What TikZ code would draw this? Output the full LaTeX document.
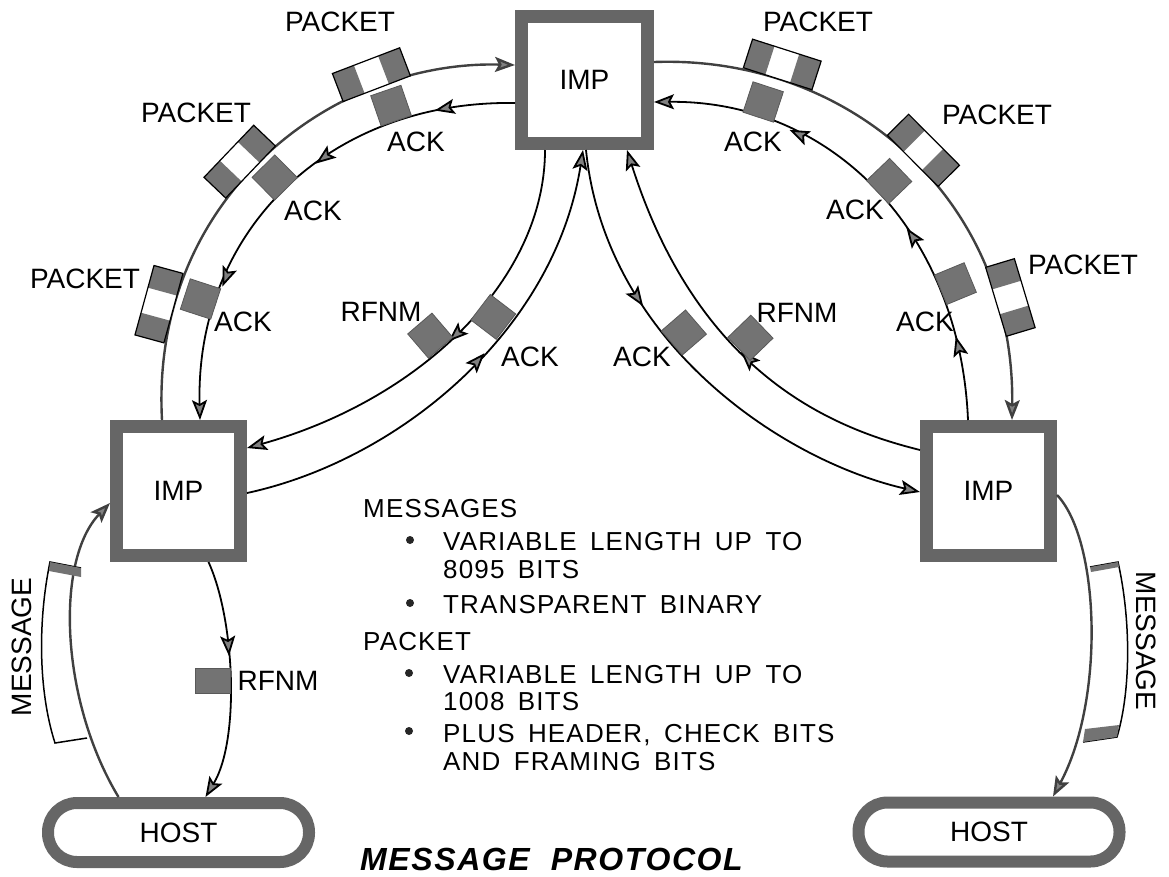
\documentclass[tikz,border=0pt]{standalone}
\usepackage{fontspec}
\setmainfont{Liberation Sans}
\newfontfamily\lettering{Liberation Sans}
\newfontfamily\notefont[LetterSpace=4.5,WordSpace=1.6]{Liberation Sans}
\newfontfamily\titlefont[LetterSpace=5,WordSpace=2]{Liberation Sans}
\usetikzlibrary{arrows.meta,decorations.markings}

% a packet: dark header and trailer round a white body, drawn on the left of the path
\newcommand\pktglyph{%
  \fill[white] (-36pt,0pt) rectangle (36pt,30pt);
  \fill[black!55] (-36pt,0pt) rectangle (-13pt,30pt);
  \fill[black!55] (13pt,0pt) rectangle (36pt,30pt);
  \draw[arrows=-, black, line width=1.2pt] (-36pt,0pt) rectangle (36pt,30pt);}

\tikzset{
  gtip/.tip={Stealth[length=20pt,width=15pt,inset=4pt,fill=black!50]},
  lbl/.style={font=\lettering\fontsize{28pt}{30pt}\selectfont, inner sep=0pt},
  txt/.style={font=\notefont\fontsize{26pt}{30pt}\selectfont, inner sep=0pt, anchor=base west},
  impnode/.style={draw=black!60, line width=13pt, fill=white, inner sep=0pt,
    minimum width=124pt, minimum height=129pt, font=\fontsize{28pt}{30pt}\selectfont},
  hostnode/.style={draw=black!60, line width=12pt, fill=white, rounded corners=29pt,
    minimum width=261pt, minimum height=59pt, inner sep=0pt, font=\fontsize{28pt}{30pt}\selectfont},
  ackbox/.style={draw=black!65, line width=0.8pt, fill=black!55, minimum size=32pt,
    inner sep=0pt, sloped, allow upside down},
  flatbox/.style={draw=black!65, line width=0.8pt, fill=black!55, minimum width=35pt,
    minimum height=25pt, inner sep=0pt},
  trunk/.style={draw=black!75, line width=2.4pt, -gtip},
  link/.style={draw=black, line width=1.8pt, -gtip},
  tipat/.style={postaction={decorate,decoration={markings,mark=at position #1 with {\arrow{gtip}}}}},
  packetat/.style={postaction={decorate,decoration={markings,mark=at position #1 with {\pktglyph}}}},
  dot/.style={circle, fill=black!85, minimum size=8pt, inner sep=0pt},
  msgbox/.style={draw=black, line width=1.5pt},
}

\begin{document}
\begin{tikzpicture}[x=1pt,y=-1pt]
\useasboundingbox (0,0) rectangle (1169,876);

% IMPs and hosts
\node[impnode, minimum width=126pt, minimum height=127pt] (timp) at (584.5,80) {IMP};
\node[impnode] (limp) at (178.5,491) {IMP};
\node[impnode] (rimp) at (988.5,491) {IMP};
\node[hostnode] (lhost) at (178.5,832.5) {HOST};
\node[hostnode] (rhost) at (989,832) {HOST};

% left trunk: packets out, acknowledgements back
\draw[trunk, packetat=0.2, packetat=0.48, packetat=0.75]
  ([xshift=-16.5pt]limp.north) .. controls (150,200) and (330,60) .. ([yshift=15pt]timp.west);
\draw[link, tipat=0.16, tipat=0.42, tipat=0.73] ([yshift=-23pt]timp.west) .. controls (330,100) and (195,230) .. ([xshift=21.5pt]limp.north)
  node[ackbox, anchor=north, pos=0.23] (ka1) {}
  node[ackbox, anchor=north, pos=0.5] (ka2) {}
  node[ackbox, anchor=north, pos=0.78] (ka3) {};

% right trunk
\draw[trunk, packetat=0.22, packetat=0.5, packetat=0.79]
  ([yshift=18pt]timp.east) .. controls (850,55) and (1015,200) .. ([xshift=23.5pt]rimp.north);
\draw[link, tipat=0.17, tipat=0.41, tipat=0.72] ([xshift=-20.5pt]rimp.north) .. controls (960,230) and (830,100) .. ([yshift=-22pt]timp.east)
  node[ackbox, anchor=north, pos=0.25] (kb1) {}
  node[ackbox, anchor=north, pos=0.49] (kb2) {}
  node[ackbox, anchor=north, pos=0.79] (kb3) {};

% RFNM and ACK paths through the middle
\draw[link, tipat=0.49] ([xshift=-39.5pt]timp.south) .. controls (545,280) and (420,400) .. ([yshift=43pt]limp.east)
  node[ackbox, anchor=north, pos=0.56] (ra) {};
\draw[link, tipat=0.55] ([yshift=-2pt]limp.east) .. controls (400,460) and (555,330) .. ([xshift=-1.5pt]timp.south)
  node[ackbox, anchor=south, pos=0.63] (ca) {};
\draw[link, tipat=0.33] ([xshift=1.5pt]timp.south) .. controls (605,340) and (780,460) .. ([yshift=-1pt]rimp.west)
  node[ackbox, anchor=south, pos=0.40] (cb) {};
\draw[link, tipat=0.47] ([yshift=41pt]rimp.west) .. controls (840,430) and (700,380) .. ([xshift=42.5pt]timp.south)
  node[ackbox, anchor=north, pos=0.6] (rb) {};

% host to IMP and IMP to host
\draw[trunk] ([xshift=-60pt]lhost.north) .. controls (60,700) and (55,560) .. ([yshift=-12pt]limp.west);
\draw[link, tipat=0.4] ([xshift=30pt]limp.south) .. controls (235,620) and (240,740) .. ([xshift=27pt]lhost.north);
\node[flatbox] (rfl) at (212.5,680.5) {};
\draw[trunk] ([yshift=-4pt]rimp.east) .. controls (1100,540) and (1105,700) .. ([xshift=64pt]rhost.north);

% message outlines beside the host links
\draw[msgbox] (81,568) -- (50,562) .. controls (38,620) and (38,690) .. (55,743) -- (87,738);
\fill[black!55] (81,568) -- (50,562) -- (49,571) -- (81,577) -- cycle;
\draw[msgbox] (1090,567) -- (1118,562) .. controls (1131,620) and (1131,690) .. (1117,737) -- (1083,742);
\fill[black!55] (1090,567) -- (1118,562) -- (1119,567) -- (1091,572) -- cycle;
\fill[black!55] (1117,737) -- (1083,742) -- (1085,729) -- (1119,725) -- cycle;

% labels
\node[lbl] (l1) at (85,279) {PACKET};
\node[lbl] (l2) at (196,113) {PACKET};
\node[lbl] (l3) at (340,22) {PACKET};
\node[lbl] (l4) at (416,142) {ACK};
\node[lbl] (l5) at (313,211) {ACK};
\node[lbl] (l6) at (243,322) {ACK};
\node[lbl] (l7) at (381,312) {RFNM};
\node[lbl] (l8) at (530,357) {ACK};
\node[lbl] (r1) at (818,22) {PACKET};
\node[lbl] (r2) at (997,115) {PACKET};
\node[lbl] (r3) at (1083,265) {PACKET};
\node[lbl] (r4) at (753,142) {ACK};
\node[lbl] (r5) at (855,210) {ACK};
\node[lbl] (r6) at (925,322) {ACK};
\node[lbl] (r7) at (797,313) {RFNM};
\node[lbl] (r8) at (642,357) {ACK};
\node[lbl] (l9) at (278,681) {RFNM};
\node[lbl, rotate=90] (lm) at (22,647) {MESSAGE};
\node[lbl, rotate=-90] (rm) at (1146,641) {MESSAGE};

% notes
\node[txt] (m0) at (363,517) {MESSAGES};
\node[dot] (d1) at (410,540) {};
\node[txt] (m1) at (443,550) {VARIABLE LENGTH UP TO};
\node[txt] (m2) at (443,578) {8095 BITS};
\node[dot] (d2) at (410,603) {};
\node[txt] (m3) at (443,613) {TRANSPARENT BINARY};
\node[txt] (p0) at (363,650) {PACKET};
\node[dot] (d3) at (409,673) {};
\node[txt] (p1) at (443,683) {VARIABLE LENGTH UP TO};
\node[txt] (p2) at (443,710) {1008 BITS};
\node[dot] (d4) at (409,731) {};
\node[txt] (p3) at (443,742) {PLUS HEADER, CHECK BITS};
\node[txt] (p4) at (443,770) {AND FRAMING BITS};

\node[font=\titlefont\fontsize{32pt}{34pt}\selectfont\bfseries\itshape, inner sep=0pt, anchor=base west] (title) at (360,870) {MESSAGE PROTOCOL};
\end{tikzpicture}
\end{document}
